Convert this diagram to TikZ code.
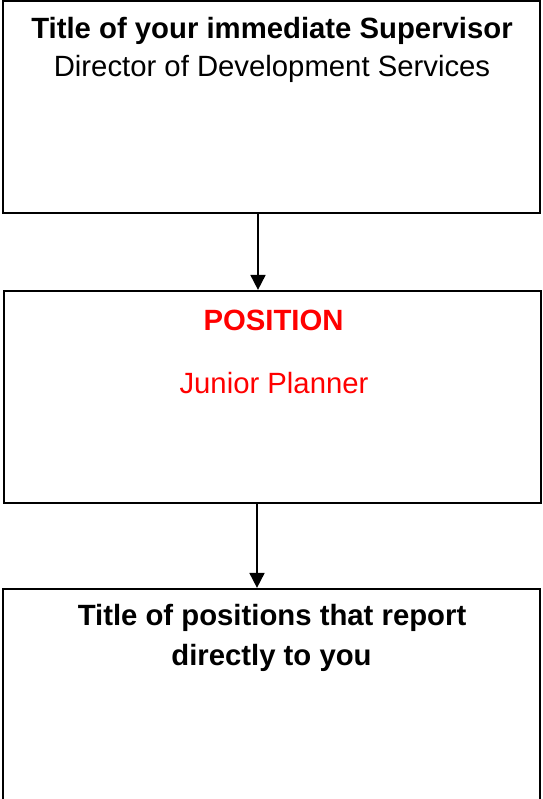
\documentclass[tikz,border=0pt]{standalone}
\usepackage{fontspec}
\setmainfont{Liberation Sans}
\usetikzlibrary{arrows.meta}
\tikzstyle{every node}=[inner sep=0pt]
\tikzstyle{box}=[draw=black,line width=2.2pt,rectangle]
\tikzstyle{head}=[anchor=base,font=\fontsize{29.3}{34}\selectfont\bfseries]
\tikzstyle{body}=[anchor=base,font=\fontsize{29.3}{34}\selectfont]
\tikzstyle{arr}=[-{Triangle[length=15pt,width=15pt]},line width=1.8pt]
\definecolor{posred}{RGB}{255,0,0}

\begin{document}
\begin{tikzpicture}[x=1pt,y=-1pt]
  \useasboundingbox (0,0) rectangle (542,799);
  % boxes
  \node[box,minimum width=537pt,minimum height=212pt] (super) at (271.5,107) {};
  \node[box,minimum width=537pt,minimum height=212pt] (pos) at (272.5,397) {};
  \node[box,minimum width=537pt,minimum height=211pt] (reports) at (271.5,694.5) {};
  % texts
  \node[head] (supertitle) at (272,39) {Title of your immediate Supervisor};
  \node[body] (supername) at (272,77) {Director of Development Services};
  \node[head,text=posred] (postitle) at (273.5,330) {POSITION};
  \node[body,text=posred] (posname) at (274,393) {Junior Planner};
  \node[head] (reptitle) at (272,625) {Title of positions that report};
  \node[head] (reptitleb) at (271.5,665) {directly to you};
  % arrows
  \draw[arr] ([xshift=-13.5pt]super.south) -- ([xshift=-14.5pt]pos.north);
  \draw[arr] ([xshift=-15.5pt]pos.south) -- ([xshift=-14.5pt]reports.north);
\end{tikzpicture}
\end{document}
